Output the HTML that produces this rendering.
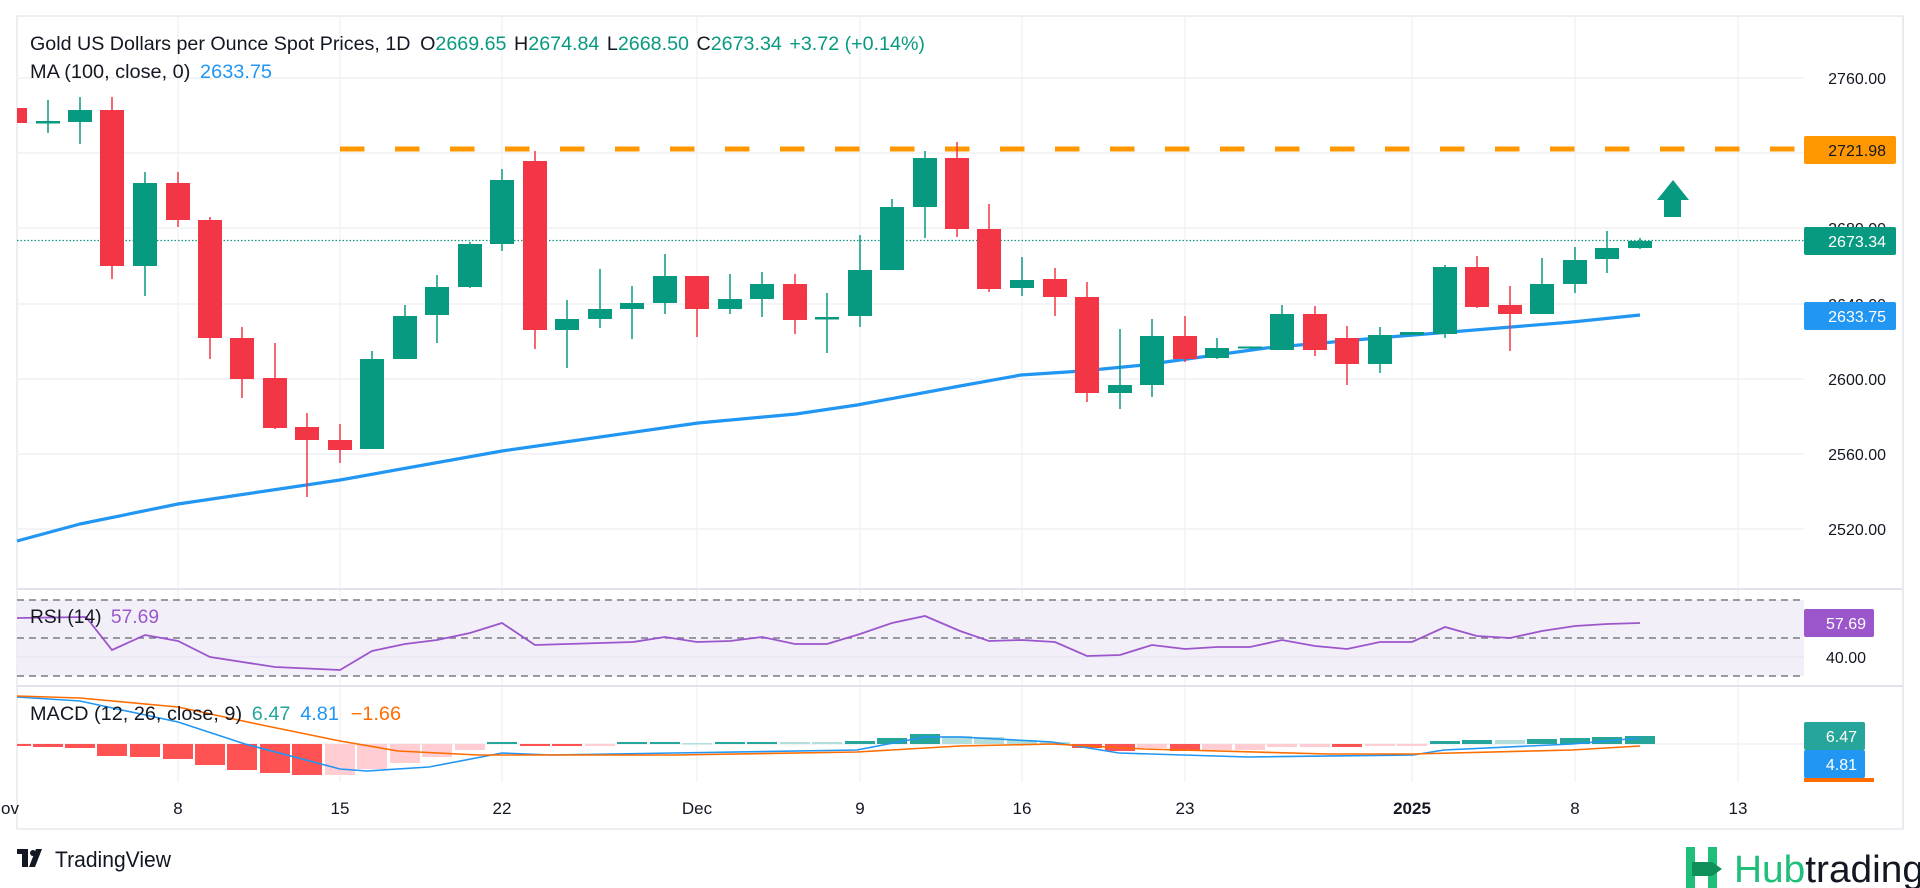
<!DOCTYPE html>
<html><head><meta charset="utf-8"><style>
html,body{margin:0;padding:0;background:#fff;}
svg{display:block;font-family:"Liberation Sans",sans-serif;}
</style></head><body>
<svg width="1920" height="888" viewBox="0 0 1920 888" xmlns="http://www.w3.org/2000/svg">
<rect width="1920" height="888" fill="#fff"/>
<rect x="17" y="16" width="1886" height="813" fill="none" stroke="#e6e8ee" stroke-width="1.5"/>
<g stroke="#f0f1f4" stroke-width="1.2">
<line x1="178" y1="16" x2="178" y2="782"/><line x1="340" y1="16" x2="340" y2="782"/><line x1="502" y1="16" x2="502" y2="782"/><line x1="697" y1="16" x2="697" y2="782"/><line x1="860" y1="16" x2="860" y2="782"/><line x1="1022" y1="16" x2="1022" y2="782"/><line x1="1185" y1="16" x2="1185" y2="782"/><line x1="1412" y1="16" x2="1412" y2="782"/><line x1="1575" y1="16" x2="1575" y2="782"/><line x1="1738" y1="16" x2="1738" y2="782"/>
</g>
<g stroke="#f0f1f4" stroke-width="1.5">
<line x1="17" y1="78" x2="1804" y2="78"/><line x1="17" y1="153" x2="1804" y2="153"/><line x1="17" y1="228" x2="1804" y2="228"/><line x1="17" y1="304" x2="1804" y2="304"/><line x1="17" y1="379" x2="1804" y2="379"/><line x1="17" y1="454" x2="1804" y2="454"/><line x1="17" y1="529" x2="1804" y2="529"/>
<line x1="17" y1="744" x2="1804" y2="744"/>
</g>
<line x1="17" y1="589" x2="1903" y2="589" stroke="#e0e3eb" stroke-width="2"/>
<line x1="17" y1="686" x2="1903" y2="686" stroke="#e0e3eb" stroke-width="2"/>
<line x1="1903" y1="16" x2="1903" y2="829" stroke="#e6e8ee" stroke-width="1.5"/>

<line x1="340" y1="149" x2="1804" y2="149" stroke="#ff9800" stroke-width="5" stroke-dasharray="24.5 30.5"/>
<line x1="17" y1="240.5" x2="1804" y2="240.5" stroke="#089981" stroke-width="1.2" stroke-dasharray="1.5 2"/>

<polyline fill="none" stroke="#2196f3" stroke-width="3.2" stroke-linejoin="round" points="17,541 80,524 178,504 340,480 502,451 551,444 698,423 796,414 857,405 960,386 1021,375 1082,371 1144,365 1266,348 1389,337 1572,322 1640,315"/>

<g>
<rect x="17" y="108" width="10" height="15" fill="#f23645"/>
<line x1="48" y1="100" x2="48" y2="133" stroke="#089981" stroke-width="1.5"/><rect x="36" y="121" width="24" height="2.5" fill="#089981"/>
<line x1="80" y1="97" x2="80" y2="144" stroke="#089981" stroke-width="1.5"/><rect x="68" y="110" width="24" height="12" fill="#089981"/>
<line x1="112" y1="97" x2="112" y2="279" stroke="#f23645" stroke-width="1.5"/><rect x="100" y="110" width="24" height="156" fill="#f23645"/>
<line x1="145" y1="172" x2="145" y2="296" stroke="#089981" stroke-width="1.5"/><rect x="133" y="183" width="24" height="83" fill="#089981"/>
<line x1="178" y1="172" x2="178" y2="227" stroke="#f23645" stroke-width="1.5"/><rect x="166" y="183" width="24" height="37" fill="#f23645"/>
<line x1="210" y1="217" x2="210" y2="359" stroke="#f23645" stroke-width="1.5"/><rect x="198" y="220" width="24" height="118" fill="#f23645"/>
<line x1="242" y1="327" x2="242" y2="398" stroke="#f23645" stroke-width="1.5"/><rect x="230" y="338" width="24" height="41" fill="#f23645"/>
<line x1="275" y1="343" x2="275" y2="429" stroke="#f23645" stroke-width="1.5"/><rect x="263" y="378" width="24" height="50" fill="#f23645"/>
<line x1="307" y1="413" x2="307" y2="497" stroke="#f23645" stroke-width="1.5"/><rect x="295" y="427" width="24" height="13" fill="#f23645"/>
<line x1="340" y1="424" x2="340" y2="463" stroke="#f23645" stroke-width="1.5"/><rect x="328" y="440" width="24" height="10" fill="#f23645"/>
<line x1="372" y1="351" x2="372" y2="449" stroke="#089981" stroke-width="1.5"/><rect x="360" y="359" width="24" height="90" fill="#089981"/>
<line x1="405" y1="305" x2="405" y2="359" stroke="#089981" stroke-width="1.5"/><rect x="393" y="316" width="24" height="43" fill="#089981"/>
<line x1="437" y1="275" x2="437" y2="343" stroke="#089981" stroke-width="1.5"/><rect x="425" y="287" width="24" height="28" fill="#089981"/>
<line x1="470" y1="242" x2="470" y2="288" stroke="#089981" stroke-width="1.5"/><rect x="458" y="244" width="24" height="43" fill="#089981"/>
<line x1="502" y1="169" x2="502" y2="251" stroke="#089981" stroke-width="1.5"/><rect x="490" y="180" width="24" height="64" fill="#089981"/>
<line x1="535" y1="151" x2="535" y2="349" stroke="#f23645" stroke-width="1.5"/><rect x="523" y="161" width="24" height="169" fill="#f23645"/>
<line x1="567" y1="300" x2="567" y2="368" stroke="#089981" stroke-width="1.5"/><rect x="555" y="319" width="24" height="11" fill="#089981"/>
<line x1="600" y1="269" x2="600" y2="328" stroke="#089981" stroke-width="1.5"/><rect x="588" y="309" width="24" height="10" fill="#089981"/>
<line x1="632" y1="286" x2="632" y2="339" stroke="#089981" stroke-width="1.5"/><rect x="620" y="303" width="24" height="6" fill="#089981"/>
<line x1="665" y1="254" x2="665" y2="314" stroke="#089981" stroke-width="1.5"/><rect x="653" y="276" width="24" height="27" fill="#089981"/>
<line x1="697" y1="276" x2="697" y2="337" stroke="#f23645" stroke-width="1.5"/><rect x="685" y="276" width="24" height="33" fill="#f23645"/>
<line x1="730" y1="274" x2="730" y2="314" stroke="#089981" stroke-width="1.5"/><rect x="718" y="299" width="24" height="10" fill="#089981"/>
<line x1="762" y1="272" x2="762" y2="317" stroke="#089981" stroke-width="1.5"/><rect x="750" y="284" width="24" height="15" fill="#089981"/>
<line x1="795" y1="274" x2="795" y2="334" stroke="#f23645" stroke-width="1.5"/><rect x="783" y="284" width="24" height="36" fill="#f23645"/>
<line x1="827" y1="293" x2="827" y2="353" stroke="#089981" stroke-width="1.5"/><rect x="815" y="317" width="24" height="2.5" fill="#089981"/>
<line x1="860" y1="235" x2="860" y2="327" stroke="#089981" stroke-width="1.5"/><rect x="848" y="270" width="24" height="46" fill="#089981"/>
<line x1="892" y1="199" x2="892" y2="270" stroke="#089981" stroke-width="1.5"/><rect x="880" y="207" width="24" height="63" fill="#089981"/>
<line x1="925" y1="151" x2="925" y2="238" stroke="#089981" stroke-width="1.5"/><rect x="913" y="158" width="24" height="49" fill="#089981"/>
<line x1="957" y1="142" x2="957" y2="237" stroke="#f23645" stroke-width="1.5"/><rect x="945" y="158" width="24" height="71" fill="#f23645"/>
<line x1="989" y1="204" x2="989" y2="292" stroke="#f23645" stroke-width="1.5"/><rect x="977" y="229" width="24" height="60" fill="#f23645"/>
<line x1="1022" y1="257" x2="1022" y2="296" stroke="#089981" stroke-width="1.5"/><rect x="1010" y="280" width="24" height="8" fill="#089981"/>
<line x1="1055" y1="268" x2="1055" y2="316" stroke="#f23645" stroke-width="1.5"/><rect x="1043" y="279" width="24" height="18" fill="#f23645"/>
<line x1="1087" y1="282" x2="1087" y2="402" stroke="#f23645" stroke-width="1.5"/><rect x="1075" y="297" width="24" height="96" fill="#f23645"/>
<line x1="1120" y1="329" x2="1120" y2="409" stroke="#089981" stroke-width="1.5"/><rect x="1108" y="385" width="24" height="8" fill="#089981"/>
<line x1="1152" y1="319" x2="1152" y2="397" stroke="#089981" stroke-width="1.5"/><rect x="1140" y="336" width="24" height="49" fill="#089981"/>
<line x1="1185" y1="316" x2="1185" y2="362" stroke="#f23645" stroke-width="1.5"/><rect x="1173" y="336" width="24" height="23" fill="#f23645"/>
<line x1="1217" y1="338" x2="1217" y2="359" stroke="#089981" stroke-width="1.5"/><rect x="1205" y="348" width="24" height="10" fill="#089981"/>
<rect x="1238" y="346.5" width="24" height="2" fill="#089981"/>
<line x1="1282" y1="305" x2="1282" y2="350" stroke="#089981" stroke-width="1.5"/><rect x="1270" y="314" width="24" height="36" fill="#089981"/>
<line x1="1315" y1="306" x2="1315" y2="356" stroke="#f23645" stroke-width="1.5"/><rect x="1303" y="314" width="24" height="36" fill="#f23645"/>
<line x1="1347" y1="326" x2="1347" y2="385" stroke="#f23645" stroke-width="1.5"/><rect x="1335" y="338" width="24" height="26" fill="#f23645"/>
<line x1="1380" y1="327" x2="1380" y2="373" stroke="#089981" stroke-width="1.5"/><rect x="1368" y="335" width="24" height="29" fill="#089981"/>
<rect x="1400" y="332" width="24" height="3" fill="#089981"/>
<line x1="1445" y1="265" x2="1445" y2="338" stroke="#089981" stroke-width="1.5"/><rect x="1433" y="267" width="24" height="67" fill="#089981"/>
<line x1="1477" y1="256" x2="1477" y2="308" stroke="#f23645" stroke-width="1.5"/><rect x="1465" y="267" width="24" height="40" fill="#f23645"/>
<line x1="1510" y1="286" x2="1510" y2="351" stroke="#f23645" stroke-width="1.5"/><rect x="1498" y="305" width="24" height="9" fill="#f23645"/>
<line x1="1542" y1="258" x2="1542" y2="314" stroke="#089981" stroke-width="1.5"/><rect x="1530" y="284" width="24" height="30" fill="#089981"/>
<line x1="1575" y1="247" x2="1575" y2="293" stroke="#089981" stroke-width="1.5"/><rect x="1563" y="260" width="24" height="24" fill="#089981"/>
<line x1="1607" y1="231" x2="1607" y2="273" stroke="#089981" stroke-width="1.5"/><rect x="1595" y="248" width="24" height="11" fill="#089981"/>
<line x1="1640" y1="238" x2="1640" y2="249" stroke="#089981" stroke-width="1.5"/><rect x="1628" y="241" width="24" height="7" fill="#089981"/>
</g>

<polygon points="1673,180 1689,200 1681,200 1681,217 1664,217 1664,200 1657,200" fill="#089981"/>

<rect x="17" y="600" width="1787" height="76" fill="#f2eff9"/>
<g stroke="#787b86" stroke-width="1.5" stroke-dasharray="7 5">
<line x1="17" y1="600" x2="1804" y2="600"/><line x1="17" y1="638" x2="1804" y2="638"/><line x1="17" y1="676" x2="1804" y2="676"/>
</g>
<line x1="17" y1="657" x2="1804" y2="657" stroke="#e6e2f2" stroke-width="1"/>
<polyline fill="none" stroke="#9c56cc" stroke-width="1.8" points="17,618 86,617 112,650 145,635 178,641 210,657 275,667 340,670 372,651 405,644 437,640 470,633 502,623 535,645 633,642 665,637 697,642 730,641 762,637 795,644 827,644 860,634 892,623 925,616 960,631 989,641 1022,640 1055,642 1087,656 1120,655 1152,645 1185,649 1217,647 1250,647 1282,640 1315,646 1347,649 1380,642 1412,642 1445,627 1477,636 1510,638 1542,631 1575,626 1607,624 1640,623"/>

<g>
<rect x="17" y="744" width="14" height="2" fill="#ff5252"/>
<rect x="33" y="744" width="30" height="3" fill="#ff5252"/>
<rect x="65" y="744" width="30" height="4" fill="#ff5252"/>
<rect x="97" y="744" width="30" height="12" fill="#ff5252"/>
<rect x="130" y="744" width="30" height="13" fill="#ff5252"/>
<rect x="163" y="744" width="30" height="15" fill="#ff5252"/>
<rect x="195" y="744" width="30" height="21" fill="#ff5252"/>
<rect x="227" y="744" width="30" height="26" fill="#ff5252"/>
<rect x="260" y="744" width="30" height="29" fill="#ff5252"/>
<rect x="292" y="744" width="30" height="31" fill="#ff5252"/>
<rect x="325" y="744" width="30" height="31" fill="#ffcdd2"/>
<rect x="357" y="744" width="30" height="25" fill="#ffcdd2"/>
<rect x="390" y="744" width="30" height="19" fill="#ffcdd2"/>
<rect x="422" y="744" width="30" height="13" fill="#ffcdd2"/>
<rect x="455" y="744" width="30" height="6" fill="#ffcdd2"/>
<rect x="487" y="742" width="30" height="2" fill="#26a69a"/>
<rect x="520" y="744" width="30" height="2" fill="#ff5252"/>
<rect x="552" y="744" width="30" height="2" fill="#ff5252"/>
<rect x="585" y="744" width="30" height="2" fill="#ffcdd2"/>
<rect x="617" y="742" width="30" height="2" fill="#26a69a"/>
<rect x="650" y="742" width="30" height="2" fill="#26a69a"/>
<rect x="682" y="743" width="30" height="1.5" fill="#b2dfdb"/>
<rect x="715" y="742" width="30" height="2" fill="#26a69a"/>
<rect x="747" y="742" width="30" height="2" fill="#26a69a"/>
<rect x="780" y="742" width="30" height="2" fill="#b2dfdb"/>
<rect x="812" y="742" width="30" height="2" fill="#b2dfdb"/>
<rect x="845" y="741" width="30" height="3" fill="#26a69a"/>
<rect x="877" y="738" width="30" height="6" fill="#26a69a"/>
<rect x="910" y="734" width="30" height="10" fill="#26a69a"/>
<rect x="942" y="736" width="30" height="8" fill="#b2dfdb"/>
<rect x="974" y="737" width="30" height="7" fill="#b2dfdb"/>
<rect x="1007" y="740" width="30" height="4" fill="#b2dfdb"/>
<rect x="1040" y="742" width="30" height="2" fill="#b2dfdb"/>
<rect x="1072" y="744" width="30" height="4" fill="#ff5252"/>
<rect x="1105" y="744" width="30" height="7" fill="#ff5252"/>
<rect x="1137" y="744" width="30" height="4" fill="#ffcdd2"/>
<rect x="1170" y="744" width="30" height="7" fill="#ff5252"/>
<rect x="1202" y="744" width="30" height="6" fill="#ffcdd2"/>
<rect x="1235" y="744" width="30" height="6" fill="#ffcdd2"/>
<rect x="1267" y="744" width="30" height="3" fill="#ffcdd2"/>
<rect x="1300" y="744" width="30" height="3" fill="#ffcdd2"/>
<rect x="1332" y="744" width="30" height="3" fill="#ff5252"/>
<rect x="1365" y="744" width="30" height="2" fill="#ffcdd2"/>
<rect x="1397" y="744" width="30" height="2" fill="#ffcdd2"/>
<rect x="1430" y="741" width="30" height="3" fill="#26a69a"/>
<rect x="1462" y="740" width="30" height="4" fill="#26a69a"/>
<rect x="1495" y="740" width="30" height="4" fill="#b2dfdb"/>
<rect x="1527" y="739" width="30" height="5" fill="#26a69a"/>
<rect x="1560" y="738" width="30" height="6" fill="#26a69a"/>
<rect x="1592" y="737" width="30" height="7" fill="#26a69a"/>
<rect x="1625" y="736" width="30" height="8" fill="#26a69a"/>
</g>
<polyline fill="none" stroke="#2196f3" stroke-width="1.6" points="17,697 80,701 178,722 245,744 340,769 367,771 429,767 502,753 551,755 674,753 857,750 888,744 925,737 960,737 1052,742 1119,753 1248,757 1413,755 1444,750 1572,744 1640,738"/>
<polyline fill="none" stroke="#ff6d00" stroke-width="1.6" points="17,696 80,698 178,707 257,724 340,741 398,751 478,755 674,755 857,752 960,746 1052,744 1144,749 1327,754 1413,754 1572,750 1640,746"/>

<text x="30" y="50" font-size="19" fill="#131722" textLength="895" lengthAdjust="spacingAndGlyphs">Gold US Dollars per Ounce Spot Prices, 1D <tspan dx="4">O</tspan><tspan fill="#089981">2669.65</tspan> <tspan dx="2">H</tspan><tspan fill="#089981">2674.84</tspan> <tspan dx="2">L</tspan><tspan fill="#089981">2668.50</tspan> <tspan dx="2">C</tspan><tspan fill="#089981">2673.34</tspan> <tspan dx="2" fill="#089981">+3.72 (+0.14%)</tspan></text>
<text x="30" y="78" font-size="19" fill="#131722" textLength="242" lengthAdjust="spacingAndGlyphs">MA (100, close, 0) <tspan dx="4" fill="#2196f3">2633.75</tspan></text>
<text x="30" y="623" font-size="19" fill="#131722" textLength="129" lengthAdjust="spacingAndGlyphs">RSI (14) <tspan dx="4" fill="#9c56cc">57.69</tspan></text>
<text x="30" y="720" font-size="19" fill="#131722" textLength="371" lengthAdjust="spacingAndGlyphs">MACD (12, 26, close, 9) <tspan dx="4" fill="#26a69a">6.47</tspan> <tspan dx="4" fill="#2196f3">4.81</tspan> <tspan dx="6" fill="#ff6d00">−1.66</tspan></text>

<g font-size="16" fill="#131722" text-anchor="end">
<text x="1886" y="84">2760.00</text>
<text x="1886" y="234">2680.00</text>
<text x="1886" y="310">2640.00</text>
<text x="1886" y="385">2600.00</text>
<text x="1886" y="460">2560.00</text>
<text x="1886" y="535">2520.00</text>
<text x="1866" y="663">40.00</text>
</g>
<rect x="1804" y="136" width="92" height="28" rx="2" fill="#ff9800"/>
<text x="1886" y="156" font-size="16" fill="#131722" text-anchor="end">2721.98</text>
<rect x="1804" y="227" width="92" height="28" rx="2" fill="#089981"/>
<text x="1886" y="247" font-size="16" fill="#fff" text-anchor="end">2673.34</text>
<rect x="1804" y="302" width="92" height="28" rx="2" fill="#2196f3"/>
<text x="1886" y="322" font-size="16" fill="#fff" text-anchor="end">2633.75</text>
<rect x="1804" y="609" width="70" height="28" rx="2" fill="#9c56cc"/>
<text x="1866" y="629" font-size="16" fill="#fff" text-anchor="end">57.69</text>
<rect x="1804" y="722" width="61" height="28" rx="2" fill="#26a69a"/>
<text x="1857" y="742" font-size="16" fill="#fff" text-anchor="end">6.47</text>
<rect x="1804" y="750" width="61" height="28" rx="2" fill="#2196f3"/>
<text x="1857" y="770" font-size="16" fill="#fff" text-anchor="end">4.81</text>
<rect x="1804" y="778" width="70" height="4" fill="#ff6d00"/>

<g font-size="17" fill="#131722" text-anchor="middle">
<text x="10" y="814">ov</text>
<text x="178" y="814">8</text>
<text x="340" y="814">15</text>
<text x="502" y="814">22</text>
<text x="697" y="814">Dec</text>
<text x="860" y="814">9</text>
<text x="1022" y="814">16</text>
<text x="1185" y="814">23</text>
<text x="1412" y="814" font-weight="bold">2025</text>
<text x="1575" y="814">8</text>
<text x="1738" y="814">13</text>
</g>

<g fill="#131722">
<rect x="17" y="849" width="11" height="5"/>
<rect x="22" y="849" width="6" height="18"/>
<circle cx="33" cy="853" r="3"/>
<polygon points="36,849 42,849 35,867 29,867"/>
</g>
<text x="55" y="867" font-size="22" fill="#131722" textLength="116" lengthAdjust="spacingAndGlyphs">TradingView</text>

<g fill="#1fbf7a">
<rect x="1686" y="847" width="9" height="41"/>
<rect x="1708" y="847" width="9" height="41"/>
<polygon points="1692,862 1712,862 1722,869 1712,876 1692,876" fill="#0f8f5a"/>
</g>
<text x="1734" y="882" font-size="38" fill="#1fbf7a" textLength="190" lengthAdjust="spacingAndGlyphs">Hub<tspan fill="#131722">trading</tspan></text>
</svg>
</body></html>
